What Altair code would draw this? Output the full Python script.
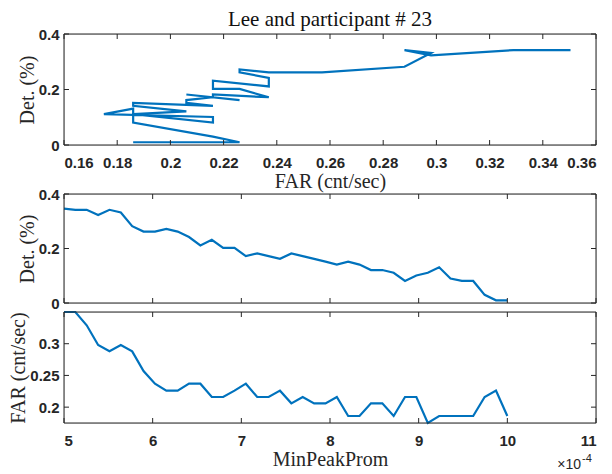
import altair as alt
import pandas as pd

# MinPeakProm values, in units of 1e-4
min_peak_prom = [5.000, 5.128, 5.256, 5.385, 5.513, 5.641, 5.769, 5.897, 6.026, 6.154,
                 6.282, 6.410, 6.538, 6.667, 6.795, 6.923, 7.051, 7.179, 7.308, 7.436,
                 7.564, 7.692, 7.821, 7.949, 8.077, 8.205, 8.333, 8.462, 8.590, 8.718,
                 8.846, 8.974, 9.103, 9.231, 9.359, 9.487, 9.615, 9.744, 9.872, 10.000]

det = [0.346, 0.342, 0.342, 0.323, 0.342, 0.332, 0.282, 0.262, 0.262, 0.272,
       0.262, 0.242, 0.211, 0.232, 0.202, 0.202, 0.172, 0.182, 0.172, 0.162,
       0.182, 0.172, 0.162, 0.152, 0.141, 0.152, 0.141, 0.121, 0.121, 0.111,
       0.081, 0.101, 0.111, 0.131, 0.090, 0.081, 0.081, 0.030, 0.010, 0.010]

far = [0.350, 0.350, 0.329, 0.298, 0.288, 0.298, 0.288, 0.257, 0.237, 0.226,
       0.226, 0.237, 0.237, 0.216, 0.216, 0.226, 0.237, 0.216, 0.216, 0.226,
       0.206, 0.216, 0.206, 0.206, 0.216, 0.186, 0.186, 0.206, 0.206, 0.186,
       0.216, 0.216, 0.175, 0.186, 0.186, 0.186, 0.186, 0.216, 0.226, 0.186]

far_ticks_top = [0.16, 0.18, 0.20, 0.22, 0.24, 0.26, 0.28, 0.30, 0.32, 0.34, 0.36]
det_ticks = [0, 0.2, 0.4]
mpp_ticks = [5, 6, 7, 8, 9, 10, 11]
far_ticks_bottom = [0.2, 0.25, 0.3]
exponent_base = ["×10"]
exponent_power = ["-4"]

df = pd.DataFrame({"i": list(range(len(det))), "mpp": min_peak_prom, "det": det, "far": far})

LINE = "#0072BD"
AXC = "#262626"
W = 532
TICK = 5

common = dict(labelFont="Liberation Sans", labelFontSize=15, labelFontWeight="bold",
              labelColor=AXC, titleFont="Liberation Serif", titleFontSize=20,
              titleFontWeight="normal", titleColor=AXC, ticks=False, domain=False,
              grid=False, minExtent=0)


def bottom_axis(ticks, fmt, title, show=True):
    if not show:
        return alt.Axis(values=ticks, labels=False, title=None, **common)
    return alt.Axis(values=ticks, format=fmt, title=title, labelPadding=10,
                    titlePadding=1, **common)


def left_axis(ticks, fmt, title):
    return alt.Axis(values=ticks, format=fmt, title=title, labelPadding=5,
                    titlePadding=1, **common)


def panel(xf, yf, xdom, ydom, xaxis, yaxis, xticks, yticks, H, extra=(), **props):
    xs = alt.Scale(domain=xdom, nice=False, zero=False)
    ys = alt.Scale(domain=ydom, nice=False, zero=False)
    line = alt.Chart(df).mark_line(color=LINE, strokeWidth=2.2).encode(
        x=alt.X(xf, scale=xs, axis=xaxis),
        y=alt.Y(yf, scale=ys, axis=yaxis),
        order="i:Q",
    )
    xname = xf.split(":")[0]
    yname = yf.split(":")[0]
    xt = alt.Chart(pd.DataFrame({xname: xticks}))
    yt = alt.Chart(pd.DataFrame({yname: yticks}))
    xe = alt.Chart(pd.DataFrame({xname: xdom}))
    ye = alt.Chart(pd.DataFrame({yname: ydom}))
    st = dict(color=AXC, strokeWidth=1)
    xb = xt.mark_rule(**st).encode(
        x=alt.X(xf, scale=xs), y=alt.value(H), y2=alt.value(H - TICK))
    xtp = xt.mark_rule(**st).encode(
        x=alt.X(xf, scale=xs), y=alt.value(0), y2=alt.value(TICK))
    yl = yt.mark_rule(**st).encode(
        y=alt.Y(yf, scale=ys), x=alt.value(0), x2=alt.value(TICK))
    yr = yt.mark_rule(**st).encode(
        y=alt.Y(yf, scale=ys), x=alt.value(W - TICK), x2=alt.value(W))
    # box: vertical borders at x-domain ends, horizontal borders at y-domain ends
    vbox = xe.mark_rule(**st).encode(
        x=alt.X(xf, scale=xs), y=alt.value(0), y2=alt.value(H))
    hbox = ye.mark_rule(**st).encode(
        y=alt.Y(yf, scale=ys), x=alt.value(0), x2=alt.value(W))
    return alt.layer(line, xb, xtp, yl, yr, vbox, hbox, *extra).properties(
        width=W, height=H, **props)


# ---- top panel: Det vs FAR path ----
top = panel("far:Q", "det:Q", [0.16, 0.36], [0, 0.4],
            bottom_axis(far_ticks_top, ".2~f", "FAR (cnt/sec)"),
            left_axis(det_ticks, ".1~f", "Det. (%)"),
            far_ticks_top, det_ticks, 111,
            title=alt.TitleParams("Lee and participant # 23", font="Liberation Serif",
                                  fontSize=21, fontWeight="normal", color="#111111", offset=-3))

# ---- middle panel: Det vs MinPeakProm ----
mid = panel("mpp:Q", "det:Q", [5, 11], [0, 0.4],
            bottom_axis(mpp_ticks, "d", None, show=False),
            left_axis(det_ticks, ".1~f", "Det. (%)"),
            mpp_ticks, det_ticks, 109)

# ---- bottom panel: FAR vs MinPeakProm ----
exp_base = alt.Chart(pd.DataFrame({"t": exponent_base})).mark_text(
    font="Liberation Sans", fontSize=14, color=AXC, align="right", baseline="alphabetic"
).encode(text="t:N", x=alt.value(517), y=alt.value(157))
exp_pow = alt.Chart(pd.DataFrame({"t": exponent_power})).mark_text(
    font="Liberation Sans", fontSize=11, color=AXC, align="left", baseline="alphabetic"
).encode(text="t:N", x=alt.value(518), y=alt.value(150))
bot = panel("mpp:Q", "far:Q", [5, 11], [min(far), max(far)],
            bottom_axis(mpp_ticks, "d", "MinPeakProm"),
            left_axis(far_ticks_bottom, ".2~f", "FAR (cnt/sec)"),
            mpp_ticks, far_ticks_bottom, 111, extra=(exp_base, exp_pow))

chart = alt.vconcat(top, mid, bot, spacing=-6).properties(
    padding={"left": 0, "top": 0, "right": 5, "bottom": 0}
).configure_view(stroke=AXC, strokeWidth=1).configure(background="white")

chart.save("out.html", embed_options={"renderer": "svg", "actions": False})
